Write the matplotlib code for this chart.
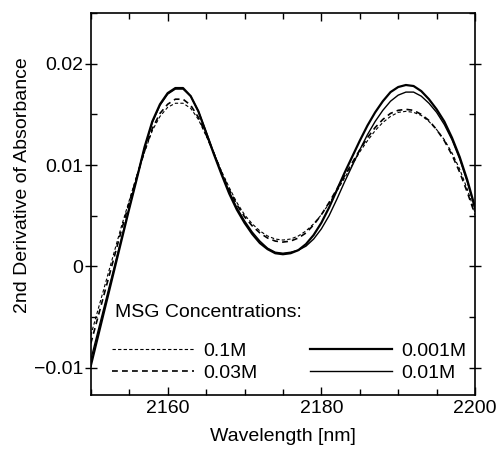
import numpy as np
import matplotlib
matplotlib.use('Agg')
import matplotlib.pyplot as plt
from matplotlib.ticker import MultipleLocator, FuncFormatter

plt.rcParams['font.family'] = ['Liberation Sans', 'DejaVu Sans']

# Wavelength grid (nm), 1 nm steps
wavelength = list(range(2150, 2201))

# 2nd derivative of absorbance for each MSG concentration
msg_01 = [-0.0068, -0.0041, -0.0014, 0.0013, 0.0040, 0.0065, 0.0090, 0.0113, 0.0134, 0.0148,
          0.0157, 0.0161, 0.0161, 0.0156, 0.0145, 0.0129, 0.0112, 0.0094, 0.0078, 0.0063,
          0.0051, 0.0042, 0.0035, 0.0030, 0.0027, 0.0026, 0.0027, 0.0030, 0.0035, 0.0042,
          0.0051, 0.0062, 0.0074, 0.0087, 0.0100, 0.0113, 0.0124, 0.0134, 0.0142, 0.0148,
          0.0152, 0.0153, 0.0152, 0.0149, 0.0143, 0.0135, 0.0125, 0.0112, 0.0096, 0.0076,
          0.0053]
msg_003 = [-0.0076, -0.0048, -0.0020, 0.0008, 0.0036, 0.0063, 0.0089, 0.0114, 0.0136, 0.0151,
           0.0160, 0.0165, 0.0165, 0.0159, 0.0147, 0.0130, 0.0112, 0.0093, 0.0076, 0.0061,
           0.0049, 0.0040, 0.0033, 0.0028, 0.0025, 0.0024, 0.0025, 0.0028, 0.0033, 0.0041,
           0.0051, 0.0063, 0.0076, 0.0089, 0.0102, 0.0115, 0.0127, 0.0137, 0.0145, 0.0151,
           0.0154, 0.0155, 0.0154, 0.0150, 0.0144, 0.0135, 0.0124, 0.0110, 0.0093, 0.0073,
           0.0051]
msg_0001 = [-0.0098, -0.0067, -0.0036, -0.0005, 0.0026, 0.0057, 0.0087, 0.0118, 0.0143, 0.0160,
            0.0171, 0.0176, 0.0176, 0.0168, 0.0153, 0.0132, 0.0111, 0.0091, 0.0072, 0.0056,
            0.0043, 0.0032, 0.0023, 0.0017, 0.0013, 0.0012, 0.0013, 0.0016, 0.0022, 0.0031,
            0.0043, 0.0058, 0.0075, 0.0092, 0.0108, 0.0124, 0.0139, 0.0152, 0.0163, 0.0172,
            0.0177, 0.0179, 0.0178, 0.0173, 0.0165, 0.0155, 0.0143, 0.0127, 0.0108, 0.0085,
            0.0058]
msg_001 = [-0.0092, -0.0062, -0.0032, -0.0002, 0.0028, 0.0058, 0.0088, 0.0117, 0.0142, 0.0159,
           0.0170, 0.0175, 0.0175, 0.0168, 0.0153, 0.0133, 0.0112, 0.0092, 0.0074, 0.0058,
           0.0045, 0.0034, 0.0025, 0.0018, 0.0014, 0.0013, 0.0014, 0.0016, 0.0020, 0.0027,
           0.0037, 0.0050, 0.0066, 0.0083, 0.0099, 0.0115, 0.0130, 0.0143, 0.0154, 0.0163,
           0.0169, 0.0172, 0.0172, 0.0168, 0.0161, 0.0152, 0.0140, 0.0125, 0.0106, 0.0083,
           0.0057]

labels = ['0.1M', '0.03M', '0.001M', '0.01M']

fig = plt.figure(figsize=(4.99, 4.5), dpi=100)
ax = fig.add_axes([0.182, 0.122, 0.770, 0.849])

l1, = ax.plot(wavelength, msg_01, color='black', lw=0.8, linestyle=(0, (3, 2)))
l2, = ax.plot(wavelength, msg_003, color='black', lw=1.2, linestyle=(0, (3.5, 2.5)))
l3, = ax.plot(wavelength, msg_0001, color='black', lw=1.6)
l4, = ax.plot(wavelength, msg_001, color='black', lw=1.0)

ax.set_xlim(2150, 2200)
ax.set_ylim(-0.0127, 0.025)

ax.xaxis.set_major_locator(MultipleLocator(20))
ax.xaxis.set_minor_locator(MultipleLocator(5))
ax.yaxis.set_major_locator(MultipleLocator(0.01))
ax.yaxis.set_minor_locator(MultipleLocator(0.005))


def yfmt(v, pos):
    if abs(v) < 1e-9:
        return '0'
    return ('%.2f' % v).replace('-', '\u2212')


ax.yaxis.set_major_formatter(FuncFormatter(yfmt))

ax.tick_params(which='both', direction='in', top=True, right=True, labelsize=14)
ax.tick_params(which='major', length=6, width=1)
ax.tick_params(which='minor', length=4, width=1)
ax.tick_params(axis='y', which='major', direction='inout', length=8, pad=1.5)
for s in ax.spines.values():
    s.set_linewidth(1.2)

ax.set_xlabel('Wavelength [nm]', fontsize=14)
ax.xaxis.set_label_coords(0.5, -0.085)
ax.set_ylabel('2nd Derivative of Absorbance', fontsize=14)
ax.yaxis.set_label_coords(-0.155, 0.55)

# legend title and entries
ax.text(0.062, 0.215, 'MSG Concentrations:', transform=ax.transAxes,
        fontsize=14, ha='left', va='center')
leg = ax.legend([l1, l2, l3, l4], labels, ncol=2, frameon=False, fontsize=14,
                loc='lower left', bbox_to_anchor=(0.035, 0.015),
                handlelength=4.2, handletextpad=0.5, columnspacing=2.7,
                labelspacing=0.2, borderaxespad=0.0)

fig.savefig('out.png', dpi=100)
